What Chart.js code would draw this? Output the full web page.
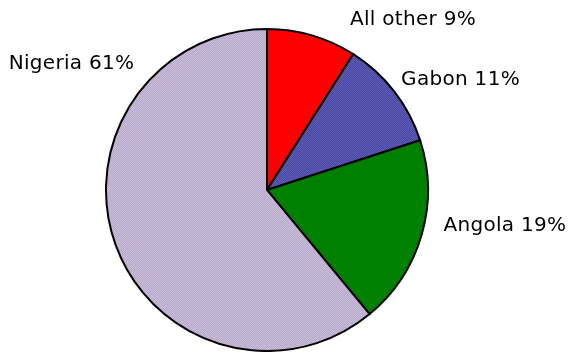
<!DOCTYPE html>
<html>
<head>
<meta charset="utf-8">
<script src="https://cdn.jsdelivr.net/npm/chart.js@4"></script>
<style>
  html, body { margin: 0; padding: 0; background: #fff; }
  #wrap { width: 568px; height: 352px; }
</style>
</head>
<body>
<div id="wrap"><canvas id="graficoPizza"></canvas></div>
<script>
// Dados do gráfico
const categorias = ['All other', 'Gabon', 'Angola', 'Nigeria'];
const percentuais = [9, 11, 19, 61];

// posição dos rótulos (centro x, linha de base), relativa ao centro, em unidades de raio
const rotuloX = [0.907, 1.202, 1.478, -1.214];
const rotuloY = [-1.025, -0.652, 0.255, -0.752];

// padrão quadriculado (pontilhado) como no original
function xadrez(c1, c2) {
    const p = document.createElement('canvas');
    p.width = 2; p.height = 2;
    const g = p.getContext('2d');
    g.fillStyle = c1; g.fillRect(0, 0, 2, 2);
    g.fillStyle = c2; g.fillRect(0, 0, 1, 1); g.fillRect(1, 1, 1, 1);
    return g.createPattern(p, 'repeat');
}

const cores = [
    '#ff0000',
    xadrez('#4a4aa2', '#5a5ab4'),
    '#008000',
    xadrez('#b8aacb', '#c8bcd8')
];

const rotulos = {
    id: 'rotulos',
    afterDraw(chart) {
        const arc = chart.getDatasetMeta(0).data[0];
        const ctx = chart.ctx;
        ctx.save();
        ctx.font = '20px "DejaVu Sans", Verdana, sans-serif';
        ctx.letterSpacing = '0.3px';
        ctx.fillStyle = '#000';
        ctx.textAlign = 'center';
        ctx.textBaseline = 'alphabetic';
        categorias.forEach((nome, i) => {
            const x = arc.x + rotuloX[i] * arc.outerRadius;
            const y = arc.y + rotuloY[i] * arc.outerRadius;
            ctx.fillText(nome + ' ' + percentuais[i] + '%', x, y);
        });
        ctx.restore();
    }
};

const ctx = document.getElementById('graficoPizza').getContext('2d');
const graficoPizza = new Chart(ctx, {
    type: 'pie',
    data: {
        labels: categorias,
        datasets: [{
            data: percentuais,
            backgroundColor: cores,
            borderColor: '#000',
            borderWidth: 2,
            borderJoinStyle: 'miter'
        }]
    },
    options: {
        responsive: true,
        maintainAspectRatio: false,
        animation: false,
        layout: {
            padding: { left: 105, right: 139, top: 28, bottom: 0 }
        },
        plugins: {
            legend: { display: false },
            tooltip: { enabled: false }
        }
    },
    plugins: [rotulos]
});
</script>
</body>
</html>
